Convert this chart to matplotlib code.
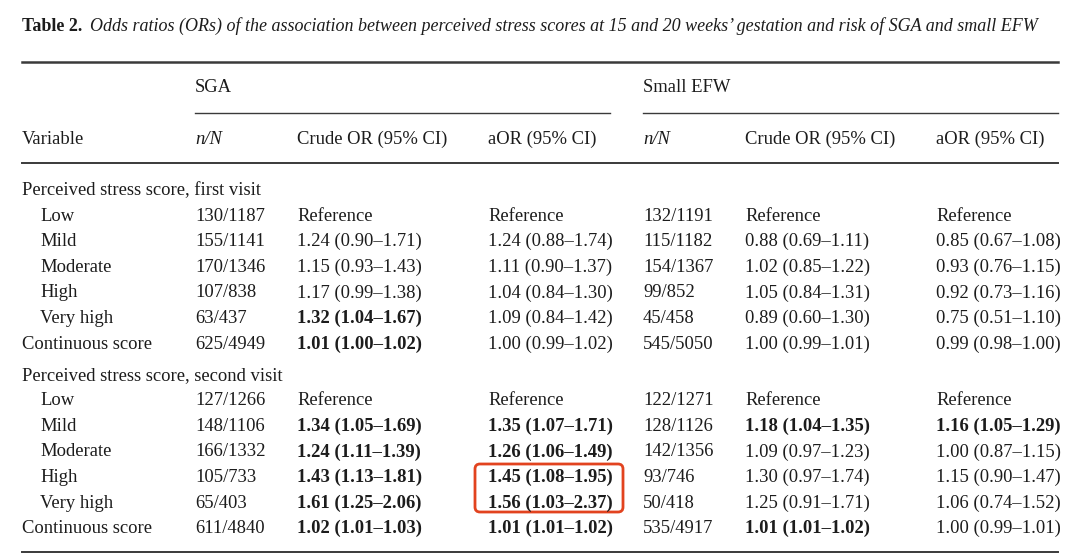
import matplotlib.pyplot as plt
from matplotlib.patches import FancyBboxPatch

plt.rcParams['font.family'] = ['Liberation Serif', 'DejaVu Serif']

# Table data
title_bold = 'Table 2.'
title_rest = ("Odds ratios (ORs) of the association between perceived stress scores "
              "at 15 and 20 weeks\u2019 gestation and risk of SGA and small EFW")

groups = ['SGA', 'Small EFW']
col_heads = ['Variable', 'n/N', 'Crude OR (95% CI)', 'aOR (95% CI)',
             'n/N', 'Crude OR (95% CI)', 'aOR (95% CI)']

sections = ['Perceived stress score, first visit',
            'Perceived stress score, second visit']
levels = ['Low', 'Mild', 'Moderate', 'High', 'Very high', 'Continuous score']

sga_n_1 = ['130/1187', '155/1141', '170/1346', '107/838', '63/437', '625/4949']
sga_crude_1 = ['Reference', '1.24 (0.90\u20131.71)', '1.15 (0.93\u20131.43)',
               '1.17 (0.99\u20131.38)', '1.32 (1.04\u20131.67)', '1.01 (1.00\u20131.02)']
sga_aor_1 = ['Reference', '1.24 (0.88\u20131.74)', '1.11 (0.90\u20131.37)',
             '1.04 (0.84\u20131.30)', '1.09 (0.84\u20131.42)', '1.00 (0.99\u20131.02)']
efw_n_1 = ['132/1191', '115/1182', '154/1367', '99/852', '45/458', '545/5050']
efw_crude_1 = ['Reference', '0.88 (0.69\u20131.11)', '1.02 (0.85\u20131.22)',
               '1.05 (0.84\u20131.31)', '0.89 (0.60\u20131.30)', '1.00 (0.99\u20131.01)']
efw_aor_1 = ['Reference', '0.85 (0.67\u20131.08)', '0.93 (0.76\u20131.15)',
             '0.92 (0.73\u20131.16)', '0.75 (0.51\u20131.10)', '0.99 (0.98\u20131.00)']

sga_n_2 = ['127/1266', '148/1106', '166/1332', '105/733', '65/403', '611/4840']
sga_crude_2 = ['Reference', '1.34 (1.05\u20131.69)', '1.24 (1.11\u20131.39)',
               '1.43 (1.13\u20131.81)', '1.61 (1.25\u20132.06)', '1.02 (1.01\u20131.03)']
sga_aor_2 = ['Reference', '1.35 (1.07\u20131.71)', '1.26 (1.06\u20131.49)',
             '1.45 (1.08\u20131.95)', '1.56 (1.03\u20132.37)', '1.01 (1.01\u20131.02)']
efw_n_2 = ['122/1271', '128/1126', '142/1356', '93/746', '50/418', '535/4917']
efw_crude_2 = ['Reference', '1.18 (1.04\u20131.35)', '1.09 (0.97\u20131.23)',
               '1.30 (0.97\u20131.74)', '1.25 (0.91\u20131.71)', '1.01 (1.01\u20131.02)']
efw_aor_2 = ['Reference', '1.16 (1.05\u20131.29)', '1.00 (0.87\u20131.15)',
             '1.15 (0.90\u20131.47)', '1.06 (0.74\u20131.52)', '1.00 (0.99\u20131.01)']

# significant results printed in bold
bold_1 = [[0, 0, 0, 0, 1, 1], [0] * 6, [0] * 6, [0] * 6]
bold_2 = [[0, 1, 1, 1, 1, 1], [0, 1, 1, 1, 1, 1], [0, 1, 0, 0, 0, 1], [0, 1, 0, 0, 0, 0]]

blocks = [
    (sections[0], [sga_n_1, sga_crude_1, sga_aor_1, efw_n_1, efw_crude_1, efw_aor_1], bold_1),
    (sections[1], [sga_n_2, sga_crude_2, sga_aor_2, efw_n_2, efw_crude_2, efw_aor_2], bold_2),
]

W, H = 1080, 556
fig = plt.figure(figsize=(W / 100, H / 100), dpi=100)
ax = fig.add_axes([0, 0, 1, 1])
ax.set_xlim(0, W)
ax.set_ylim(H, 0)
ax.axis('off')

ink = '#1c1c1c'
rule = '#3a3a3a'
fs = 13.4
left, right = 22, 1058
col_x = [22, 195, 297, 488, 643, 745, 936]
num_cols = [1, 2, 3, 4, 5, 6]
fmt_bold = {2: 0, 3: 1, 5: 2, 6: 3}
dy = 1.5  # small nudge so text sits like the original

# title
t = ax.text(left, 25 + dy, title_bold, fontsize=13.0, fontweight='bold', color=ink, va='center')
fig.canvas.draw()
bb = t.get_window_extent()
ax.text(left + bb.width + 8, 25 + dy, title_rest, fontsize=13.0, style='italic',
        color=ink, va='center')

# rules
ax.plot([left, right], [62, 62], color=rule, lw=1.8)
ax.plot([195, 610], [113, 113], color=rule, lw=1.0)
ax.plot([643, right], [113, 113], color=rule, lw=1.0)
ax.plot([left, right], [163, 163], color=rule, lw=1.4)
ax.plot([left, right], [552, 552], color=rule, lw=1.4)

# group headings
ax.text(col_x[1], 86 + dy, groups[0], fontsize=fs, color=ink, va='center')
ax.text(col_x[4], 86 + dy, groups[1], fontsize=fs, color=ink, va='center')

# column headings
for i, h in enumerate(col_heads):
    st = 'italic' if h == 'n/N' else 'normal'
    ax.text(col_x[i], 138 + dy, h, fontsize=fs, style=st, color=ink, va='center')

# body
y = 189
step = 25.6
for sec, cols, bold in blocks:
    ax.text(col_x[0], y + dy, sec, fontsize=fs, color=ink, va='center')
    for r, lev in enumerate(levels):
        yy = y + step * (r + 1) + dy
        xv = col_x[0] if lev == 'Continuous score' else 40
        ax.text(xv, yy, lev, fontsize=fs, color=ink, va='center')
        for c, vals in zip(num_cols, cols):
            w = 'bold' if (c in fmt_bold and bold[fmt_bold[c]][r]) else 'normal'
            ax.text(col_x[c], yy, vals[r], fontsize=fs, fontweight=w, color=ink, va='center')
    y = y + step * len(levels) + 31

# highlight box around the two aOR cells
box = FancyBboxPatch((475, 464), 148, 48, boxstyle='round,pad=0,rounding_size=5',
                     fill=False, edgecolor='#e2431f', lw=2.0)
ax.add_patch(box)

fig.savefig('out.png', dpi=100)
